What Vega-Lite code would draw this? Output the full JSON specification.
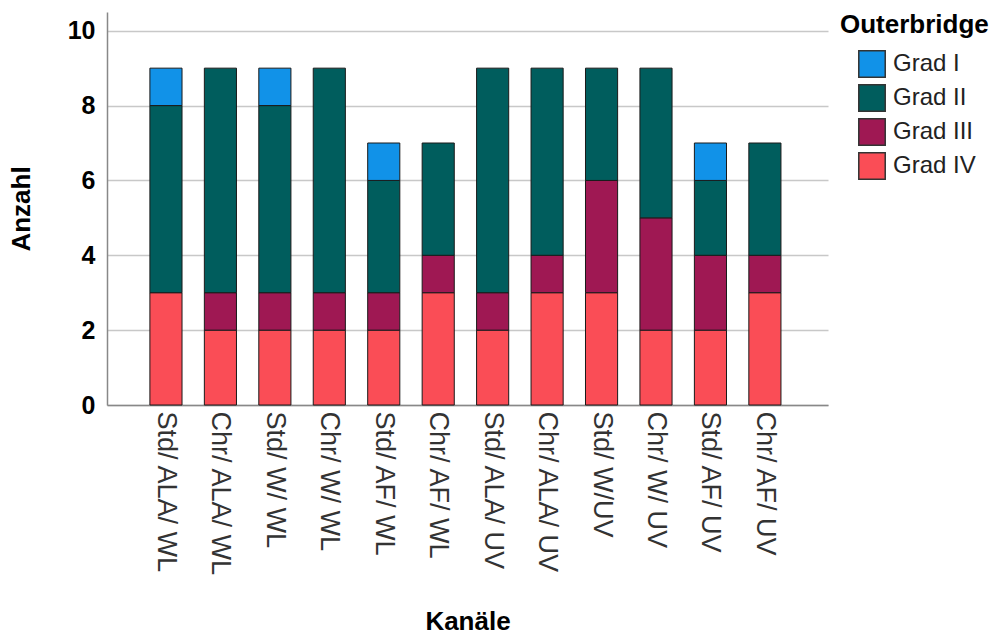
{
  "$schema": "https://vega.github.io/schema/vega-lite/v6.json",
  "width": 721,
  "height": 393,
  "autosize": {"type": "none"},
  "padding": {"left": 107, "top": 12, "right": 176, "bottom": 230},
  "background": "white",
  "config": {
    "font": "Liberation Sans",
    "view": {"stroke": null},
    "axis": {"labelFont": "Liberation Sans", "titleFont": "Liberation Sans"},
    "legend": {"labelFont": "Liberation Sans", "titleFont": "Liberation Sans"}
  },
  "data": {
    "values": [
      {"Kanal": "Std/ ALA/ WL", "Grad": "Grad IV", "Anzahl": 3},
      {"Kanal": "Std/ ALA/ WL", "Grad": "Grad II", "Anzahl": 5},
      {"Kanal": "Std/ ALA/ WL", "Grad": "Grad I", "Anzahl": 1},
      {"Kanal": "Chr/ ALA/ WL", "Grad": "Grad IV", "Anzahl": 2},
      {"Kanal": "Chr/ ALA/ WL", "Grad": "Grad III", "Anzahl": 1},
      {"Kanal": "Chr/ ALA/ WL", "Grad": "Grad II", "Anzahl": 6},
      {"Kanal": "Std/ W/ WL", "Grad": "Grad IV", "Anzahl": 2},
      {"Kanal": "Std/ W/ WL", "Grad": "Grad III", "Anzahl": 1},
      {"Kanal": "Std/ W/ WL", "Grad": "Grad II", "Anzahl": 5},
      {"Kanal": "Std/ W/ WL", "Grad": "Grad I", "Anzahl": 1},
      {"Kanal": "Chr/ W/ WL", "Grad": "Grad IV", "Anzahl": 2},
      {"Kanal": "Chr/ W/ WL", "Grad": "Grad III", "Anzahl": 1},
      {"Kanal": "Chr/ W/ WL", "Grad": "Grad II", "Anzahl": 6},
      {"Kanal": "Std/ AF/ WL", "Grad": "Grad IV", "Anzahl": 2},
      {"Kanal": "Std/ AF/ WL", "Grad": "Grad III", "Anzahl": 1},
      {"Kanal": "Std/ AF/ WL", "Grad": "Grad II", "Anzahl": 3},
      {"Kanal": "Std/ AF/ WL", "Grad": "Grad I", "Anzahl": 1},
      {"Kanal": "Chr/ AF/ WL", "Grad": "Grad IV", "Anzahl": 3},
      {"Kanal": "Chr/ AF/ WL", "Grad": "Grad III", "Anzahl": 1},
      {"Kanal": "Chr/ AF/ WL", "Grad": "Grad II", "Anzahl": 3},
      {"Kanal": "Std/ ALA/ UV", "Grad": "Grad IV", "Anzahl": 2},
      {"Kanal": "Std/ ALA/ UV", "Grad": "Grad III", "Anzahl": 1},
      {"Kanal": "Std/ ALA/ UV", "Grad": "Grad II", "Anzahl": 6},
      {"Kanal": "Chr/ ALA/ UV", "Grad": "Grad IV", "Anzahl": 3},
      {"Kanal": "Chr/ ALA/ UV", "Grad": "Grad III", "Anzahl": 1},
      {"Kanal": "Chr/ ALA/ UV", "Grad": "Grad II", "Anzahl": 5},
      {"Kanal": "Std/ W/UV", "Grad": "Grad IV", "Anzahl": 3},
      {"Kanal": "Std/ W/UV", "Grad": "Grad III", "Anzahl": 3},
      {"Kanal": "Std/ W/UV", "Grad": "Grad II", "Anzahl": 3},
      {"Kanal": "Chr/ W/ UV", "Grad": "Grad IV", "Anzahl": 2},
      {"Kanal": "Chr/ W/ UV", "Grad": "Grad III", "Anzahl": 3},
      {"Kanal": "Chr/ W/ UV", "Grad": "Grad II", "Anzahl": 4},
      {"Kanal": "Std/ AF/ UV", "Grad": "Grad IV", "Anzahl": 2},
      {"Kanal": "Std/ AF/ UV", "Grad": "Grad III", "Anzahl": 2},
      {"Kanal": "Std/ AF/ UV", "Grad": "Grad II", "Anzahl": 2},
      {"Kanal": "Std/ AF/ UV", "Grad": "Grad I", "Anzahl": 1},
      {"Kanal": "Chr/ AF/ UV", "Grad": "Grad IV", "Anzahl": 3},
      {"Kanal": "Chr/ AF/ UV", "Grad": "Grad III", "Anzahl": 1},
      {"Kanal": "Chr/ AF/ UV", "Grad": "Grad II", "Anzahl": 3}
    ]
  },
  "mark": {"type": "bar", "stroke": "#1a1a1a", "strokeWidth": 1},
  "encoding": {
    "x": {
      "field": "Kanal",
      "type": "nominal",
      "sort": null,
      "scale": {"paddingInner": 0.41, "paddingOuter": 0.826, "align": 0.477},
      "axis": {
        "title": "Kanäle",
        "titleFontSize": 26,
        "titleFontWeight": "bold",
        "titleColor": "#000",
        "titlePadding": 32,
        "labelAngle": 90,
        "labelFontSize": 27,
        "labelColor": "#333",
        "labelPadding": 6,
        "labelLimit": 300,
        "ticks": false,
        "domainColor": "#888",
        "domainWidth": 1.5,
        "grid": false
      }
    },
    "y": {
      "field": "Anzahl",
      "type": "quantitative",
      "aggregate": "sum",
      "stack": "zero",
      "scale": {"domain": [0, 10.5], "nice": false},
      "axis": {
        "title": "Anzahl",
        "titleFontSize": 26,
        "titleFontWeight": "bold",
        "titleColor": "#000",
        "titlePadding": 33,
        "values": [0, 2, 4, 6, 8, 10],
        "labelFontSize": 25,
        "labelFontWeight": "bold",
        "labelColor": "#000",
        "labelPadding": 12,
        "ticks": false,
        "domainColor": "#888",
        "domainWidth": 1.5,
        "grid": true,
        "gridColor": "#c8c8c8",
        "gridWidth": 1.5
      }
    },
    "color": {
      "field": "Grad",
      "type": "nominal",
      "scale": {
        "domain": ["Grad I", "Grad II", "Grad III", "Grad IV"],
        "range": ["#1192e8", "#005d5d", "#9f1853", "#fa4d56"]
      },
      "legend": {
        "title": "Outerbridge",
        "orient": "none",
        "legendX": 733,
        "legendY": 0,
        "titleFontSize": 26,
        "titleFontWeight": "bold",
        "titleColor": "#000",
        "titlePadding": 12,
        "titleLimit": 300,
        "labelFontSize": 24,
        "labelColor": "#222",
        "labelOffset": 7,
        "symbolType": "square",
        "symbolSize": 700,
        "symbolOffset": 18,
        "symbolStrokeColor": "#333",
        "symbolStrokeWidth": 1.5,
        "rowPadding": 0
      }
    },
    "order": {"field": "Grad", "sort": "descending"}
  }
}
